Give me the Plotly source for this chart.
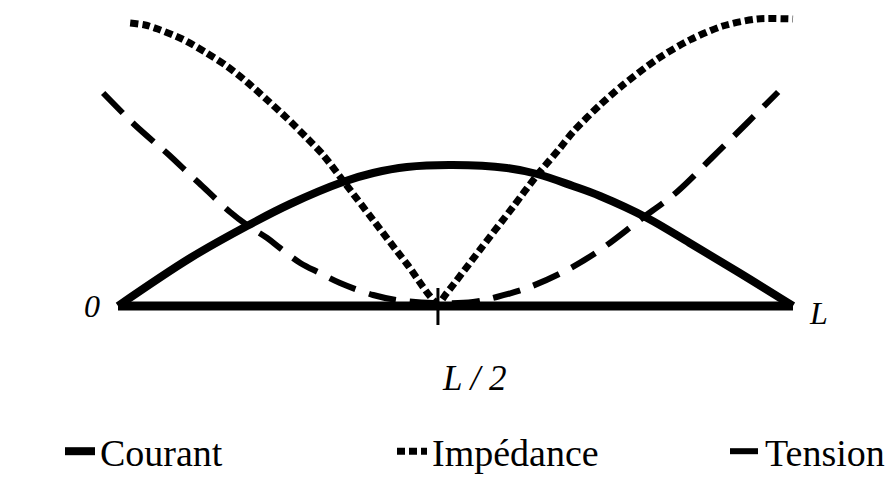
import plotly.graph_objects as go

# x in units of L (0 .. 1), y in arbitrary amplitude units
MID = 0.474  # position of the L/2 mark as drawn

courant_x = [0.0, 0.107, 0.191, 0.255, 0.333, 0.378, 0.428, 0.496, 0.576, 0.621, 0.674, 0.714, 0.784, 0.847, 0.921, 1.0]
courant_y = [0, 48, 80, 102, 124, 133, 139, 141, 138, 132, 120, 110, 88, 63, 33, 0]

imped_x = [0.018, 0.040, 0.059, 0.095, 0.129, 0.161, 0.191, 0.221, 0.250, 0.280, 0.304, 0.336, 0.378, 0.428, 0.474,
           0.487, 0.536, 0.585, 0.621, 0.655, 0.674, 0.714, 0.748, 0.799, 0.847, 0.896, 0.947, 1.0]
imped_y = [283, 281, 277, 267, 254, 240, 224, 206, 188, 168, 151, 123, 86, 42, 3,
           13, 56, 99, 131, 158, 174, 201, 221, 247, 266, 280, 287, 287]

tension_x = [-0.022, 0.007, 0.025, 0.055, 0.074, 0.107, 0.120, 0.166, 0.191, 0.221, 0.240, 0.270, 0.299, 0.329, 0.378,
             0.413, 0.467, 0.526, 0.561, 0.606, 0.665, 0.714, 0.773, 0.828, 0.881, 0.932, 0.978]
tension_y = [213, 193, 181, 163, 152, 131, 123, 94, 81, 68, 58, 43, 33, 23, 11,
             6, 3, 4, 9, 18, 36, 56, 86, 114, 149, 183, 214]

base_x = [0.0, 1.0]
base_y = [0, 0]

series_names = ["Courant", "Impédance", "Tension"]
end_labels = ["0", "L", "L / 2"]

serif = "Liberation Serif, Times New Roman, serif"

fig = go.Figure()

fig.add_trace(go.Scatter(x=base_x, y=base_y, mode="lines", showlegend=False,
                         line=dict(color="black", width=9), hoverinfo="skip"))
fig.add_trace(go.Scatter(x=courant_x, y=courant_y, mode="lines", name=series_names[0], legend="legend",
                         line=dict(color="black", width=8, shape="spline", smoothing=1.0)))
fig.add_trace(go.Scatter(x=imped_x, y=imped_y, mode="lines", name=series_names[1], legend="legend2",
                         line=dict(color="black", width=7, dash="8px,4px", shape="spline", smoothing=0.8)))
fig.add_trace(go.Scatter(x=tension_x, y=tension_y, mode="lines", name=series_names[2], legend="legend3",
                         line=dict(color="black", width=6, dash="28px,14px", shape="spline", smoothing=1.0)))

# L/2 tick mark
fig.add_shape(type="line", xref="x", yref="y", x0=MID, x1=MID, ysizemode="pixel", yanchor=0,
              y0=-19, y1=18, line=dict(color="black", width=3))

fig.add_annotation(x=0, y=0, xref="x", yref="y", text=end_labels[0], showarrow=False,
                   xanchor="center", yanchor="middle", xshift=-26,
                   font=dict(family=serif, size=32, color="black", style="italic"))
fig.add_annotation(x=1, y=0, xref="x", yref="y", text=end_labels[1], showarrow=False,
                   xanchor="center", yanchor="middle", xshift=25, yshift=-7,
                   font=dict(family=serif, size=32, color="black", style="italic"))
fig.add_annotation(x=MID, y=0, xref="x", yref="y", text=end_labels[2], showarrow=False,
                   xanchor="center", yanchor="middle", xshift=37, yshift=-72,
                   font=dict(family=serif, size=35, color="black", style="italic"))

x_lo = (90 - 118) / 675
x_hi = (800 - 118) / 675

leg_common = dict(orientation="h", xref="container", yref="container", y=0.0,
                  xanchor="left", yanchor="bottom",
                  font=dict(family=serif, size=38, color="black"), bgcolor="rgba(0,0,0,0)")

fig.update_layout(
    width=893, height=483,
    margin=dict(l=90, r=93, t=5, b=157, autoexpand=False),
    paper_bgcolor="white", plot_bgcolor="white",
    xaxis=dict(range=[x_lo, x_hi], visible=False, fixedrange=True),
    yaxis=dict(range=[-20, 301], visible=False, fixedrange=True),
    showlegend=True,
    legend=dict(x=60 / 893, **leg_common),
    legend2=dict(x=392 / 893, **leg_common),
    legend3=dict(x=725 / 893, **leg_common),
)

fig.write_html("out.html", config={"displayModeBar": False},
               post_script="document.body.style.margin='0';document.body.style.overflow='hidden';")
